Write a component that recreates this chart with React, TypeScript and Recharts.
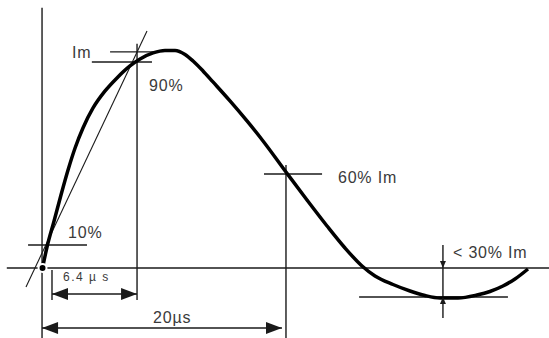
import { LineChart, Line, XAxis, YAxis, ReferenceLine, ReferenceDot } from "recharts";

// Impulse current waveform, time in µs, current in % of Im
const timeUs = [
  0.04, 0.41, 0.99, 1.56, 2.14, 2.72, 3.37, 4.2, 5.19, 6.17, 7.24, 8.07, 9.14, 10.12, 10.95,
  11.77, 12.43, 13.25, 14.07, 15.47, 16.87, 18.19, 20.08, 21.81, 23.46, 24.94, 26.34, 27.41,
  28.89, 30.29, 31.52, 32.76, 34.24, 35.8, 36.87, 37.94, 38.93, 40.0,
];
const currentPct = [
  0, 9.63, 21.56, 33.49, 44.95, 55.05, 64.22, 73.39, 81.19, 87.16, 92.66, 95.87, 98.62, 99.77,
  99.77, 97.94, 94.95, 90.37, 85.32, 76.61, 67.43, 58.26, 44.04, 31.19, 19.27, 9.17, 0.92, -3.67,
  -7.57, -10.55, -12.61, -13.76, -13.76, -12.39, -10.78, -8.26, -5.05, -0.46,
];

// guide segments [t1, i1, t2, i2]
const guides = [
  [0, 119.3, 0, -33], // current axis
  [-2.9, 0, 42, 0], // time axis
  [5.6, 99.1, 9.5, 99.1], // Im
  [4.1, 94.5, 9.05, 94.5], // 90%
  [7.82, 102.8, 7.82, -14.7],
  [-1.15, 10.55, 3.7, 10.55], // 10%
  [0.82, -0.9, 0.82, -14.7],
  [0.82, -11.9, 7.82, -11.9], // 6.4 µs
  [0, -27.5, 19.75, -27.5], // 20 µs
  [20.08, 47.2, 20.08, -33],
  [18.27, 43.1, 23.05, 43.1], // 60%
  [33.0, 10.6, 33.0, -22.9], // < 30%
  [26.1, -13.3, 38.35, -13.3],
];
const tangent = [-1.32, -8.7, 8.64, 108.7];

const labels = [
  { text: "Im", t: 2.47, i: 98.6, size: 16 },
  { text: "90%", t: 8.81, i: 83.9, size: 16 },
  { text: "10%", t: 2.14, i: 16.5, size: 16 },
  { text: "6.4 µ s", t: 1.73, i: -4.1, size: 12 },
  { text: "20µs", t: 9.14, i: -22.5, size: 16 },
  { text: "60% Im", t: 24.36, i: 41.3, size: 16 },
  { text: "< 30% Im", t: 33.83, i: 7.3, size: 16 },
];

// arrow heads [t, i, direction]
const heads: [number, number, string][] = [
  [0.82, -11.9, "left"],
  [7.82, -11.9, "right"],
  [0, -27.5, "left"],
  [19.75, -27.5, "right"],
  [33.0, 0, "down"],
  [33.0, -13.3, "up"],
];

const data = timeUs.map((t, k) => ({ t, i: currentPct[k] }));

const ink = "#1a1a1a";

const Head = ({ cx, cy, dir }: any) => {
  if (cx == null) return null;
  let pts = "";
  if (dir === "left") pts = `${cx},${cy} ${cx + 16},${cy - 6} ${cx + 16},${cy + 6}`;
  if (dir === "right") pts = `${cx},${cy} ${cx - 16},${cy - 6} ${cx - 16},${cy + 6}`;
  if (dir === "down") pts = `${cx},${cy} ${cx - 3},${cy - 7} ${cx + 3},${cy - 7}`;
  if (dir === "up") pts = `${cx},${cy} ${cx - 3},${cy + 7} ${cx + 3},${cy + 7}`;
  return <polygon points={pts} fill={ink} />;
};

export default function App() {
  return (
    <div style={{ position: "absolute", left: 0, top: 0, background: "#fff" }}>
      <LineChart width={549} height={338} data={data} margin={{ top: 0, right: 0, bottom: 0, left: 0 }}>
        <XAxis dataKey="t" type="number" domain={[-3.46, 41.73]} hide allowDataOverflow />
        <YAxis type="number" domain={[-32.1, 122.9]} hide allowDataOverflow />
        {guides.map((g, k) => (
          <ReferenceLine
            key={`g${k}`}
            segment={[{ x: g[0], y: g[1] }, { x: g[2], y: g[3] }]}
            stroke={ink}
            strokeWidth={1.4}
            ifOverflow="visible"
          />
        ))}
        <ReferenceLine
          segment={[{ x: tangent[0], y: tangent[1] }, { x: tangent[2], y: tangent[3] }]}
          stroke={ink}
          strokeWidth={1.1}
          ifOverflow="visible"
        />
        <Line
          dataKey="i"
          type="monotone"
          stroke="#000"
          strokeWidth={3.5}
          strokeLinejoin="round"
          dot={false}
          isAnimationActive={false}
        />
        {heads.map((h, k) => (
          <ReferenceDot
            key={`h${k}`}
            x={h[0]}
            y={h[1]}
            r={1}
            ifOverflow="visible"
            shape={(p: any) => <Head cx={p.cx} cy={p.cy} dir={h[2]} />}
          />
        ))}
        {labels.map((l, k) => (
          <ReferenceDot
            key={`l${k}`}
            x={l.t}
            y={l.i}
            r={1}
            ifOverflow="visible"
            shape={(p: any) => (
              <text
                x={p.cx}
                y={p.cy}
                dominantBaseline="central"
                fontFamily="'Liberation Sans', Arial, sans-serif"
                fontSize={l.size}
                letterSpacing={l.size > 12 ? 0.8 : 1.5}
                fill="#3a3a3a"
              >
                {l.text}
              </text>
            )}
          />
        ))}
      </LineChart>
    </div>
  );
}
